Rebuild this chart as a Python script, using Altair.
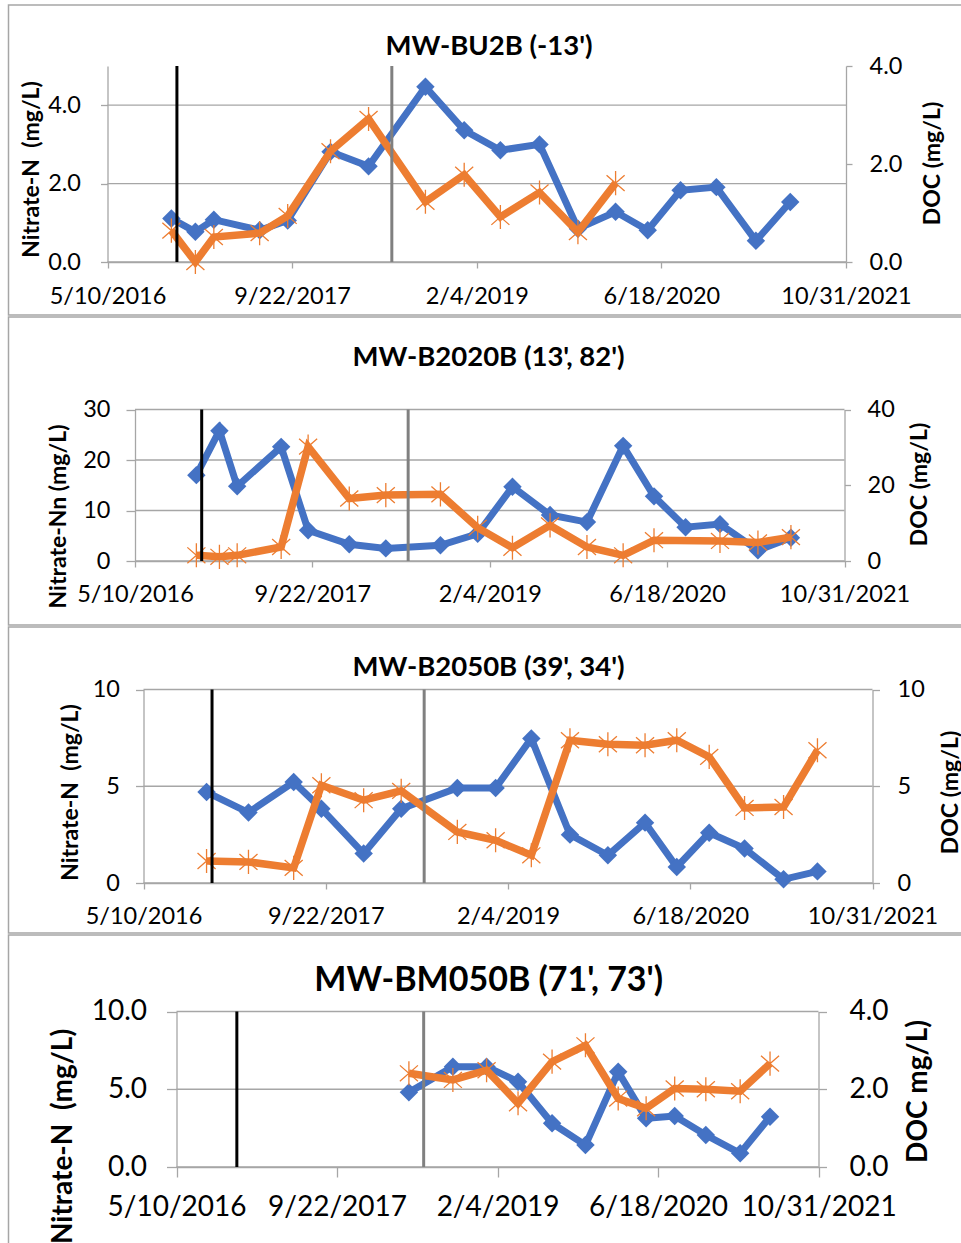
import altair as alt
import pandas as pd

W, H = 961, 1243
BLUE = "#4472C4"
ORANGE = "#ED7D31"
GRID = "#A6A6A6"
FONT = "Lato"
STAR = "M0,-1L0,1M-0.75,-0.66L0.75,0.66M-0.75,0.66L0.75,-0.66"

# ---------------- data ----------------
x_domain = ["2016-05-10", "2021-10-31"]
x_tick_dates = ["2016-05-10", "2017-09-22", "2019-02-04", "2020-06-18", "2021-10-31"]
event_dates = ["2016-11-14", "2018-06-19"]
event_colors = ["#000000", "#808080"]

sample_dates = ["2016-10-30", "2017-01-03", "2017-02-22", "2017-06-26", "2017-09-10",
                "2018-01-04", "2018-04-17", "2018-09-18", "2019-01-01", "2019-04-09",
                "2019-07-24", "2019-11-05", "2020-02-15", "2020-05-12", "2020-08-09",
                "2020-11-14", "2021-03-01", "2021-06-02"]

titles = ["MW-BU2B (-13')", "MW-B2020B (13', 82')", "MW-B2050B (39', 34')", "MW-BM050B (71', 73')"]
left_titles = ["Nitrate-N\u00a0 (mg/L)", "Nitrate-Nn (mg/L)", "Nitrate-N\u00a0 (mg/L)", "Nitrate-N\u00a0 (mg/L)"]
right_titles = ["DOC (mg/L)", "DOC (mg/L)", "DOC (mg/L)", "DOC mg/L)"]

# MW-BU2B
bu2b_nitrate_dates = sample_dates
bu2b_nitrate = [1.11, 0.77, 1.08, 0.81, 1.06, 2.81, 2.44, 4.47, 3.36, 2.85, 3.00, 0.85,
                1.28, 0.81, 1.83, 1.91, 0.54, 1.53]
bu2b_doc_dates = sample_dates[:13]
bu2b_doc = [0.64, 0.00, 0.51, 0.59, 0.94, 2.26, 2.92, 1.23, 1.78, 0.92, 1.42, 0.61, 1.61]

# MW-B2020B
b2020b_nitrate_dates = sample_dates
b2020b_nitrate = [17.0, 25.8, 14.8, 22.6, 6.1, 3.3, 2.5, 3.1, 5.4, 14.7, 9.1, 7.7,
                  22.8, 12.8, 6.7, 7.3, 2.1, 4.6]
b2020b_doc_dates = sample_dates[:14] + sample_dates[15:]
b2020b_doc = [1.5, 1.1, 1.5, 3.7, 30.2, 16.5, 17.4, 17.6, 8.8, 3.5, 9.4, 3.7, 1.5, 5.5,
              5.3, 4.9, 6.3]

# MW-B2050B
b2050b_nitrate_dates = sample_dates[:1] + sample_dates[2:]
b2050b_nitrate = [4.70, 3.64, 5.22, 3.84, 1.52, 3.84, 4.91, 4.91, 7.47, 2.50, 1.43, 3.12,
                  0.83, 2.60, 1.78, 0.19, 0.60]
b2050b_doc_dates = b2050b_nitrate_dates
b2050b_doc = [1.14, 1.09, 0.78, 5.05, 4.28, 4.76, 2.64, 2.21, 1.43, 7.38, 7.17, 7.12,
              7.38, 6.52, 3.88, 3.93, 6.86]

# MW-BM050B
bm050b_nitrate_dates = ["2018-05-04"] + sample_dates[7:]
bm050b_nitrate = [4.80, 6.45, 6.45, 5.48, 2.81, 1.41, 6.12, 3.13, 3.28, 2.06, 0.88, 3.23]
bm050b_doc_dates = bm050b_nitrate_dates
bm050b_doc = [2.41, 2.24, 2.49, 1.64, 2.71, 3.13, 1.76, 1.51, 2.02, 2.00, 1.95, 2.66]

left_max = [5, 30, 10, 10]
right_max = [4, 40, 10, 4]
left_ticks = [[0, 2, 4], [0, 10, 20, 30], [0, 5, 10], [0, 5, 10]]
right_ticks = [[0, 2, 4], [0, 20, 40], [0, 5, 10], [0, 2, 4]]
left_fmt = [".1f", "d", "d", ".1f"]
right_fmt = [".1f", "d", "d", ".1f"]

series = [
    (bu2b_nitrate_dates, bu2b_nitrate, bu2b_doc_dates, bu2b_doc),
    (b2020b_nitrate_dates, b2020b_nitrate, b2020b_doc_dates, b2020b_doc),
    (b2050b_nitrate_dates, b2050b_nitrate, b2050b_doc_dates, b2050b_doc),
    (bm050b_nitrate_dates, bm050b_nitrate, bm050b_doc_dates, bm050b_doc),
]

# ---------------- layout (pixels / styles) ----------------
layout = [
    dict(x0=107.5, x1=846, yb=262, yt=66, title=(489, 47), lt=(31.5, 169), rt=(932.7, 163),
         tick=23.5, atitle=23, ptitle=27.5, ltick=7, lpad=20, rtick=6, rpad=17, xtick=6, xpad=28,
         frame=(5, 315)),
    dict(x0=135, x1=844.5, yb=561, yt=409.5, title=(488.6, 358), lt=(58, 516), rt=(919, 484),
         tick=23.5, atitle=23, ptitle=27.5, ltick=9, lpad=16, rtick=6, rpad=16.5, xtick=6, xpad=27,
         frame=(317, 625)),
    dict(x0=143.5, x1=872.5, yb=883, yt=689.5, title=(488.6, 668), lt=(70.5, 792), rt=(950, 792),
         tick=23.5, atitle=23, ptitle=27.5, ltick=8, lpad=16, rtick=7, rpad=17.5, xtick=6, xpad=27,
         frame=(627, 933)),
    dict(x0=176.5, x1=818.5, yb=1167, yt=1011.5, title=(488.7, 981), lt=(63, 1136), rt=(918, 1091),
         tick=28, atitle=28, ptitle=34, ltick=10, lpad=20, rtick=8, rpad=22.5, xtick=10, xpad=30,
         frame=(935, 1300)),
]


def ms(s):
    return int(pd.Timestamp(s, tz="UTC").value // 10**6)


layers = []

for i in range(4):
    L = layout[i]
    nd, nv, dd, dv = series[i]
    xs = alt.Scale(type="utc", domain=[ms(x_domain[0]), ms(x_domain[1])],
                   range=[L["x0"], L["x1"]], nice=False)
    yl = alt.Scale(domain=[0, left_max[i]], range=[L["yb"], L["yt"]], nice=False, zero=False)
    yr = alt.Scale(domain=[0, right_max[i]], range=[L["yb"], L["yt"]], nice=False, zero=False)

    # frame
    frame_df = pd.DataFrame({"k": [0]})
    layers.append(
        alt.Chart(frame_df).mark_rect(fillOpacity=0, stroke=GRID, strokeWidth=1.5).encode(
            x=alt.value(8.5), x2=alt.value(W + 20),
            y=alt.value(L["frame"][0]), y2=alt.value(L["frame"][1]))
    )

    # gridlines
    grid_df = pd.DataFrame({"v": left_ticks[i], "s": x_domain[0], "e": x_domain[1]})
    layers.append(
        alt.Chart(grid_df).mark_rule(color=GRID, strokeWidth=1.3).encode(
            x=alt.X("s:T", scale=xs, axis=None), x2="e:T",
            y=alt.Y("v:Q", scale=yl, axis=None))
    )

    x_axis = alt.Axis(orient="bottom", offset=L["yb"] - H, values=[ms(d) for d in x_tick_dates],
                      labelExpr="utcFormat(datum.value, '%-m/%-d/%Y')", grid=False, title=None,
                      labelFont=FONT, labelFontSize=L["tick"], labelColor="black",
                      labelBaseline="middle", labelPadding=L["xpad"], tickSize=L["xtick"],
                      tickColor=GRID, tickWidth=1.3, domainColor=GRID, domainWidth=1.3,
                      labelOverlap=False, labelFlush=False)
    left_axis = alt.Axis(orient="left", offset=-L["x0"], values=left_ticks[i], format=left_fmt[i],
                         grid=False, title=left_titles[i], titleX=L["lt"][0] - L["x0"],
                         titleY=L["lt"][1], titleAngle=270, titleAlign="center",
                         titleBaseline="middle", titleFont=FONT, titleFontSize=L["atitle"],
                         titleFontWeight="bold", titleColor="black",
                         labelFont=FONT, labelFontSize=L["tick"], labelColor="black",
                         labelPadding=L["lpad"], tickSize=L["ltick"], tickColor=GRID,
                         tickWidth=1.3, domainColor=GRID, domainWidth=1.3, labelOverlap=False,
                         labelFlush=False)
    right_axis = alt.Axis(orient="right", offset=L["x1"] - W, values=right_ticks[i],
                          format=right_fmt[i], grid=False, title=right_titles[i],
                          titleX=L["rt"][0] - L["x1"], titleY=L["rt"][1], titleAngle=270,
                          titleAlign="center", titleBaseline="middle", titleFont=FONT,
                          titleFontSize=L["atitle"], titleFontWeight="bold", titleColor="black",
                          labelFont=FONT, labelFontSize=L["tick"], labelColor="black",
                          labelPadding=L["rpad"], tickSize=L["rtick"], tickColor=GRID,
                          tickWidth=1.3, domainColor=GRID, domainWidth=1.3, labelOverlap=False,
                          labelFlush=False)

    ndf = pd.DataFrame({"date": nd, "v": nv})
    ddf = pd.DataFrame({"date": dd, "v": dv})

    layers.append(
        alt.Chart(ndf).mark_line(color=BLUE, strokeWidth=7).encode(
            x=alt.X("date:T", scale=xs, axis=x_axis),
            y=alt.Y("v:Q", scale=yl, axis=left_axis))
    )
    layers.append(
        alt.Chart(ndf).mark_point(shape="diamond", filled=True, size=340, color=BLUE, opacity=1).encode(
            x=alt.X("date:T", scale=xs, axis=None),
            y=alt.Y("v:Q", scale=yl, axis=None))
    )
    layers.append(
        alt.Chart(ddf).mark_line(color=ORANGE, strokeWidth=7.5).encode(
            x=alt.X("date:T", scale=xs, axis=None),
            y=alt.Y("v:Q", scale=yr, axis=right_axis))
    )
    layers.append(
        alt.Chart(ddf).mark_point(shape=STAR, filled=False, size=580, color=ORANGE,
                                  strokeWidth=1.3, opacity=1).encode(
            x=alt.X("date:T", scale=xs, axis=None),
            y=alt.Y("v:Q", scale=yr, axis=None))
    )

    ev_df = pd.DataFrame({"date": event_dates, "c": event_colors, "lo": 0, "hi": left_max[i]})
    layers.append(
        alt.Chart(ev_df).mark_rule(strokeWidth=3).encode(
            x=alt.X("date:T", scale=xs, axis=None),
            y=alt.Y("lo:Q", scale=yl, axis=None), y2="hi:Q",
            color=alt.Color("c:N", scale=None))
    )

    t_df = pd.DataFrame({"t": [titles[i]]})
    layers.append(
        alt.Chart(t_df).mark_text(font=FONT, fontWeight="bold", fontSize=L["ptitle"],
                                  align="center", baseline="middle", color="black").encode(
            x=alt.value(L["title"][0]), y=alt.value(L["title"][1]), text="t:N")
    )

chart = (
    alt.layer(*layers)
    .resolve_scale(x="independent", y="independent")
    .properties(width=W, height=H, autosize=alt.AutoSizeParams(type="none"), padding=0,
                background="white")
    .configure_view(stroke=None)
)

chart.save("out.html", embed_options={"renderer": "svg", "actions": False})
